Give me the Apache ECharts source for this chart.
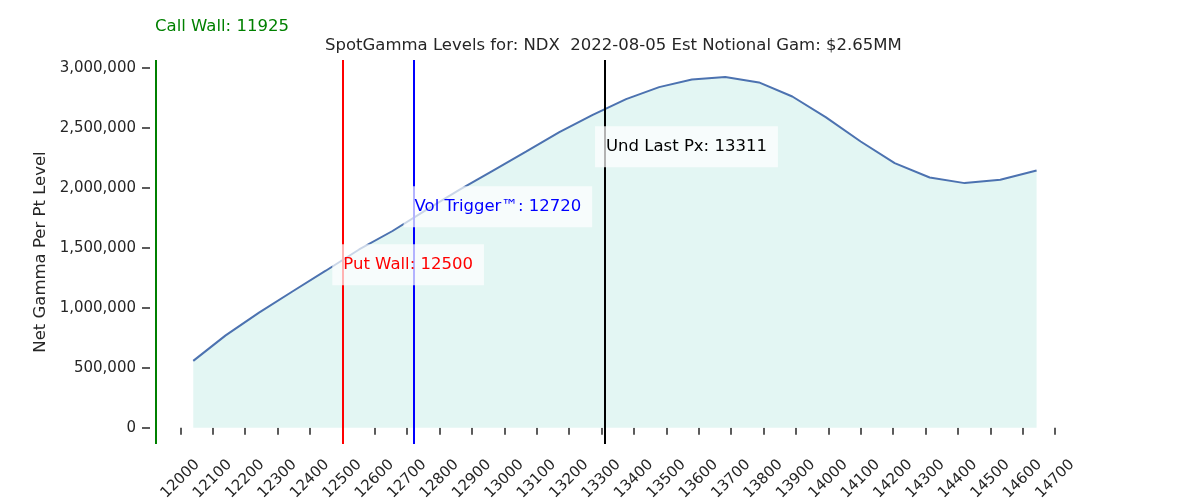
<!DOCTYPE html>
<html>
<head>
<meta charset="utf-8">
<script src="https://cdn.jsdelivr.net/npm/echarts@6/dist/echarts.min.js"></script>
<style>
  html, body { margin: 0; padding: 0; background: #fff; }
  #chart { width: 1200px; height: 500px; }
</style>
</head>
<body>
<div id="chart"></div>
<script>
// ---- data ----
const strikes = [12040, 12140, 12243, 12346, 12449, 12552, 12655, 12758, 12861, 12964, 13067, 13170, 13273,
                 13376, 13478, 13579, 13682, 13786, 13889, 13992, 14100, 14205, 14313, 14421, 14531, 14643];
const netGamma = [558000, 770000, 960000, 1136000, 1309000, 1486000, 1640000, 1814000, 1982000, 2142000, 2302000, 2464000, 2608000,
                  2739000, 2839000, 2903000, 2923000, 2878000, 2761000, 2589000, 2386000, 2206000, 2086000, 2039000, 2067000, 2144000];
const levelNames = ['Call Wall', 'Put Wall', 'Vol Trigger\u2122', 'Und Last Px'];
const levelValues = [11925, 12500, 12720, 13311];
const levelColors = ['#008000', '#ff0000', '#0000ff', '#000000'];
const xTicks = [12000, 12100, 12200, 12300, 12400, 12500, 12600, 12700, 12800, 12900, 13000, 13100, 13200, 13300,
                13400, 13500, 13600, 13700, 13800, 13900, 14000, 14100, 14200, 14300, 14400, 14500, 14600, 14700];
const yTicks = [0, 500000, 1000000, 1500000, 2000000, 2500000, 3000000];
const titleText = 'SpotGamma Levels for: NDX  2022-08-05 Est Notional Gam: $2.65MM';
const yLabel = 'Net Gamma Per Pt Level';

// annotation heights (in y-axis units) for the boxed level labels
const labelHeights = [null, 1358000, 1842000, 2342000];

const FONT = 'DejaVu Sans';
const TXT = '#262626';

const chart = echarts.init(document.getElementById('chart'), null, { renderer: 'canvas' });

const lineData = strikes.map((s, i) => [s, netGamma[i]]);

const markLines = levelValues.map((v, i) => ({
  xAxis: v,
  lineStyle: { color: levelColors[i], width: 2, type: 'solid', opacity: 1 }
}));

const labelPoints = [];
for (let i = 1; i < levelValues.length; i++) {
  labelPoints.push({
    value: [levelValues[i], labelHeights[i]],
    name: levelNames[i] + ': ' + levelValues[i],
    label: { color: levelColors[i] }
  });
}

const fmt = v => Math.round(v).toString().replace(/\B(?=(\d{3})+(?!\d))/g, ',');

chart.setOption({
  animation: false,
  backgroundColor: '#ffffff',
  textStyle: { fontFamily: FONT },
  title: [
    {
      text: titleText,
      left: 325, top: 37, padding: 0,
      textStyle: { fontFamily: FONT, fontSize: 16.5, fontWeight: 'normal', color: TXT }
    },
    {
      text: levelNames[0] + ': ' + levelValues[0],
      left: 155, top: 18, padding: 0,
      textStyle: { fontFamily: FONT, fontSize: 16.5, fontWeight: 'normal', color: levelColors[0] }
    }
  ],
  grid: { left: 156, right: 120, top: 60, bottom: 56, containLabel: false, outerBoundsMode: 'none' },
  xAxis: {
    type: 'value',
    min: 11925, max: 14777,
    offset: 1,
    axisLine: { show: false },
    splitLine: { show: false },
    axisTick: { show: true, length: 7, lineStyle: { color: TXT, width: 1.5 }, customValues: xTicks },
    axisLabel: {
      customValues: xTicks,
      rotate: 45,
      align: 'center',
      verticalAlign: 'middle',
      margin: 34,
      fontFamily: FONT, fontSize: 15, color: TXT,
      formatter: v => String(v)
    }
  },
  yAxis: {
    type: 'value',
    min: -135000, max: 3065000,
    offset: 6,
    name: yLabel,
    nameLocation: 'middle',
    nameRotate: 90,
    nameGap: 93,
    nameTextStyle: { fontFamily: FONT, fontSize: 16.5, color: TXT },
    axisLine: { show: false },
    splitLine: { show: false },
    axisTick: { show: true, length: 8, lineStyle: { color: TXT, width: 1.5 }, customValues: yTicks },
    axisLabel: {
      customValues: yTicks,
      margin: 14,
      fontFamily: FONT, fontSize: 15, color: TXT,
      formatter: v => fmt(v)
    }
  },
  series: [
    {
      type: 'line',
      data: lineData,
      showSymbol: false,
      symbol: 'none',
      z: 2,
      lineStyle: { color: '#4c72b0', width: 2 },
      areaStyle: { color: '#e3f6f3', opacity: 1, origin: 0 },
      silent: true
    },
    {
      type: 'line',
      data: [],
      z: 3,
      silent: true,
      markLine: {
        silent: true,
        symbol: ['none', 'none'],
        label: { show: false },
        data: markLines
      }
    },
    {
      type: 'scatter',
      z: 6,
      symbolSize: 0,
      silent: true,
      itemStyle: { opacity: 1 },
      data: labelPoints,
      label: {
        show: true,
        position: 'right',
        distance: 0,
        offset: [-10, 0],
        formatter: p => p.name,
        fontFamily: FONT,
        fontSize: 16.5,
        backgroundColor: 'rgba(255,255,255,0.7)',
        padding: [12, 11, 12, 11]
      }
    }
  ]
});
</script>
</body>
</html>
